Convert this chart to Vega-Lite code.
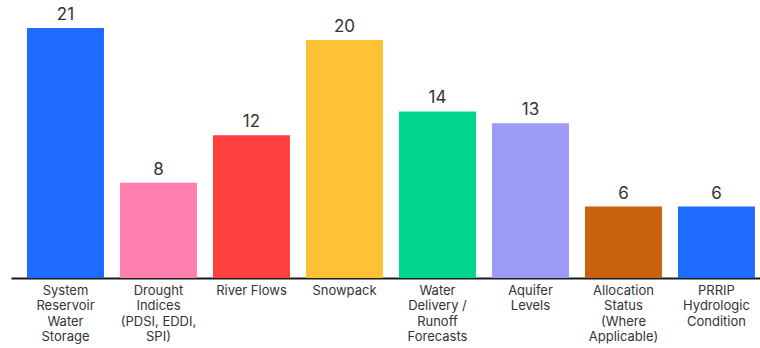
{
  "$schema": "https://vega.github.io/schema/vega-lite/v6.json",
  "width": 749,
  "height": 278,
  "padding": {"left": 11, "right": 0, "top": 0, "bottom": 70},
  "autosize": {"type": "none"},
  "background": "white",
  "config": {
    "view": {"stroke": null},
    "font": "Inter"
  },
  "data": {
    "values": [
      {"category": "System Reservoir Water Storage", "count": 21, "color": "#1F6BFF"},
      {"category": "Drought Indices (PDSI, EDDI, SPI)", "count": 8, "color": "#FF80AF"},
      {"category": "River Flows", "count": 12, "color": "#FF4040"},
      {"category": "Snowpack", "count": 20, "color": "#FFC236"},
      {"category": "Water Delivery / Runoff Forecasts", "count": 14, "color": "#00D68F"},
      {"category": "Aquifer Levels", "count": 13, "color": "#9B9BF5"},
      {"category": "Allocation Status (Where Applicable)", "count": 6, "color": "#C8620E"},
      {"category": "PRRIP Hydrologic Condition", "count": 6, "color": "#1F6BFF"}
    ]
  },
  "encoding": {
    "x": {
      "field": "category",
      "type": "nominal",
      "sort": null,
      "title": null,
      "scale": {"paddingInner": 0.172, "paddingOuter": 0.113, "align": 0.76},
      "axis": {
        "labelAngle": 0,
        "ticks": false,
        "domainColor": "#1a1a1a",
        "domainWidth": 2,
        "labelColor": "#333333",
        "labelFontSize": 13,
        "labelLineHeight": 15.5,
        "labelPadding": 6,
        "labelLimit": 0,
        "labelExpr": "({'System Reservoir Water Storage': ['System', 'Reservoir', 'Water', 'Storage'], 'Drought Indices (PDSI, EDDI, SPI)': ['Drought', 'Indices', '(PDSI, EDDI,', 'SPI)'], 'River Flows': ['River Flows'], 'Snowpack': ['Snowpack'], 'Water Delivery / Runoff Forecasts': ['Water', 'Delivery /', 'Runoff', 'Forecasts'], 'Aquifer Levels': ['Aquifer', 'Levels'], 'Allocation Status (Where Applicable)': ['Allocation', 'Status', '(Where', 'Applicable)'], 'PRRIP Hydrologic Condition': ['PRRIP', 'Hydrologic', 'Condition']})[datum.value]"
      }
    },
    "y": {
      "field": "count",
      "type": "quantitative",
      "scale": {"domain": [0, 23.36], "nice": false},
      "axis": null
    }
  },
  "layer": [
    {
      "mark": {"type": "bar"},
      "encoding": {
        "color": {"field": "color", "type": "nominal", "scale": null, "legend": null}
      }
    },
    {
      "mark": {"type": "text", "baseline": "bottom", "dy": -4, "fontSize": 17, "color": "#333333"},
      "encoding": {
        "text": {"field": "count", "type": "quantitative"}
      }
    }
  ]
}
